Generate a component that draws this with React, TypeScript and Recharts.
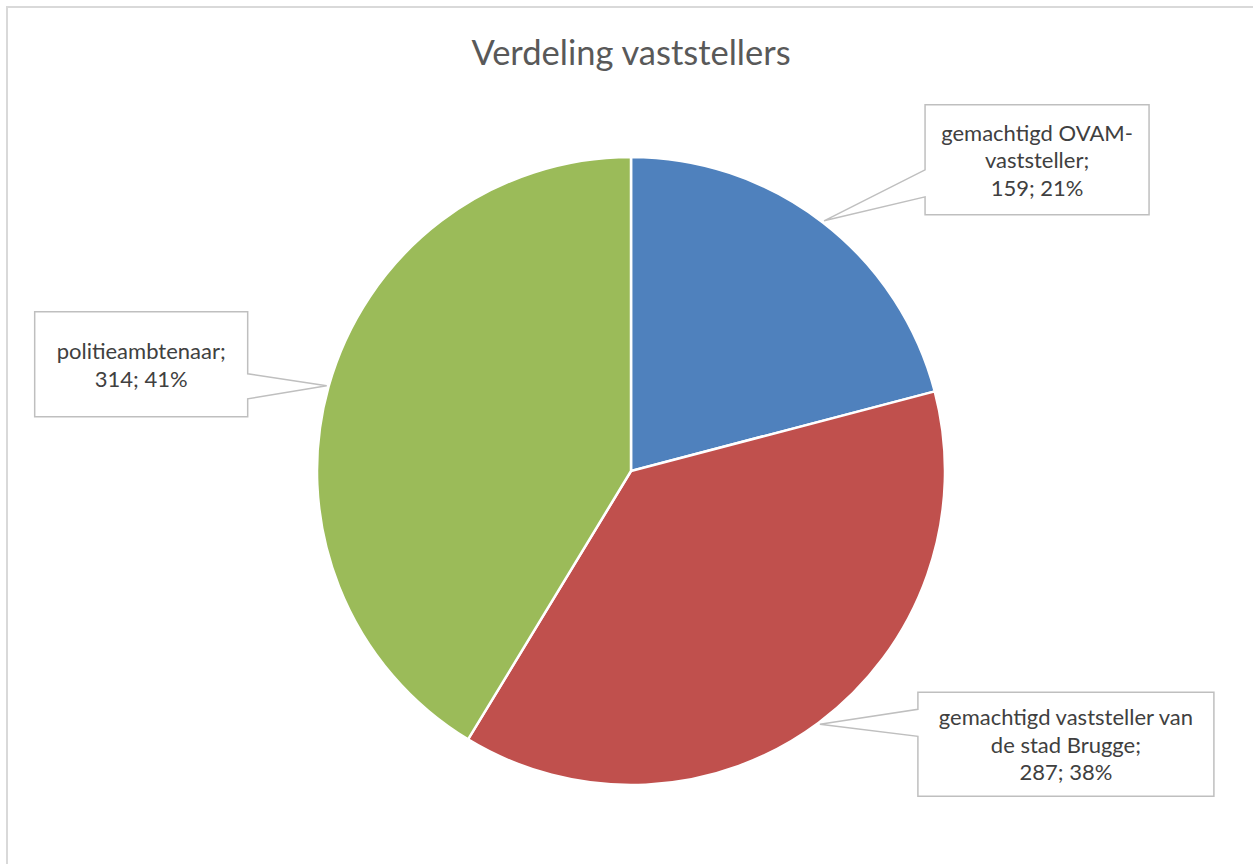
import React from "react";
import { Cell, Pie, PieChart } from "recharts";

const categories = [
  "gemachtigd OVAM-vaststeller",
  "gemachtigd vaststeller van de stad Brugge",
  "politieambtenaar",
];
const counts = [159, 287, 314];
// how Excel wrapped each label inside its callout
const labelLines = [
  ["gemachtigd OVAM-", "vaststeller;"],
  ["gemachtigd vaststeller van", "de stad Brugge;"],
  ["politieambtenaar;"],
];

const colors = ["#4F81BD", "#C0504D", "#9BBB59"];

// callout box placement, relative to the tip on the slice edge
const callouts = [
  { dx: 101, dy: -116, w: 224, h: 110, side: "left", b1: 65, b2: 92 },
  { dx: 98, dy: -32, w: 296, h: 104, side: "left", b1: 17, b2: 44 },
  { dx: -292, dy: -74, w: 213, h: 105, side: "right", b1: 62, b2: 87 },
];

const RAD = Math.PI / 180;
const FONT = "Lato, 'Open Sans', sans-serif";

const data = categories.map((name, i) => ({ name, value: counts[i] }));

function renderCallout(props: any) {
  const { cx, cy, midAngle, outerRadius, index, value, percent } = props;
  const tx = cx + (outerRadius + 2) * Math.cos(-midAngle * RAD);
  const ty = cy + (outerRadius + 2) * Math.sin(-midAngle * RAD);
  const c = callouts[index];
  const L = tx + c.dx;
  const T = ty + c.dy;
  const R = L + c.w;
  const B = T + c.h;

  const pts =
    c.side === "left"
      ? [[L, T], [R, T], [R, B], [L, B], [L, T + c.b2], [tx, ty], [L, T + c.b1]]
      : [[L, T], [R, T], [R, T + c.b1], [tx, ty], [R, T + c.b2], [R, B], [L, B]];
  const d = "M" + pts.map((p) => p.join(",")).join("L") + "Z";

  const lines = [...labelLines[index], `${value}; ${Math.round(percent * 100)}%`];
  const lh = 27.5;
  const midY = (T + B) / 2;
  const startY = midY - ((lines.length - 1) * lh) / 2;

  return (
    <g key={`callout-${index}`}>
      <path d={d} fill="#ffffff" stroke="#bfbfbf" strokeWidth={1.5} />
      {lines.map((line, i) => (
        <text
          key={i}
          x={(L + R) / 2}
          y={startY + i * lh}
          textAnchor="middle"
          dominantBaseline="central"
          fill="#404040"
          fontFamily={FONT}
          fontSize={22}
        >
          {line}
        </text>
      ))}
    </g>
  );
}

export default function App() {
  return (
    <div
      style={{
        position: "absolute",
        left: 0,
        top: 0,
        width: 1253,
        height: 864,
        overflow: "hidden",
        background: "#ffffff",
      }}
    >
      <div
        style={{
          position: "absolute",
          left: 6,
          top: 6,
          width: 1280,
          height: 900,
          border: "2px solid #d9d9d9",
          boxSizing: "border-box",
        }}
      />
      <div
        style={{
          position: "absolute",
          left: 0,
          top: 30,
          width: 1262,
          textAlign: "center",
          fontFamily: FONT,
          fontSize: 34.5,
          color: "#595959",
          lineHeight: "44px",
        }}
      >
        Verdeling vaststellers
      </div>
      <div style={{ position: "absolute", left: 0, top: 0 }}>
        <PieChart width={1253} height={864} margin={{ top: 0, right: 0, bottom: 0, left: 0 }}>
          <Pie
            data={data}
            dataKey="value"
            nameKey="name"
            cx={631}
            cy={471}
            outerRadius={314}
            startAngle={90}
            endAngle={-270}
            stroke="#ffffff"
            strokeWidth={2.5}
            label={renderCallout}
            labelLine={false}
            isAnimationActive={false}
          >
            {data.map((entry, i) => (
              <Cell key={entry.name} fill={colors[i]} />
            ))}
          </Pie>
        </PieChart>
      </div>
    </div>
  );
}
